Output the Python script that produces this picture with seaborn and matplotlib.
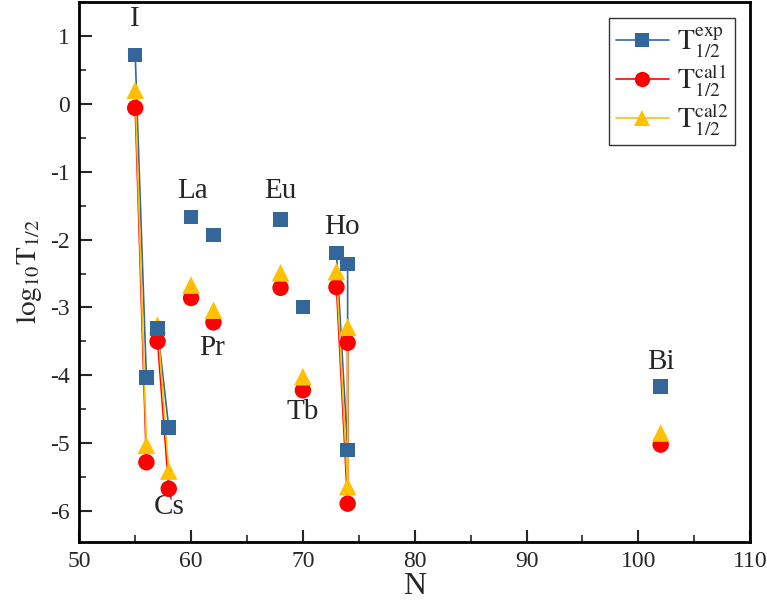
import numpy as np
import pandas as pd
import matplotlib
matplotlib.use("Agg")
import matplotlib.pyplot as plt
import seaborn as sns
from matplotlib.lines import Line2D
from matplotlib.ticker import MultipleLocator

sns.set_theme(style="ticks")
plt.rcParams['font.family'] = ['Liberation Serif', 'DejaVu Serif']
plt.rcParams['mathtext.fontset'] = 'stix'
plt.rcParams['axes.unicode_minus'] = False

# Data (segment id groups points joined by a line)
N = [55, 56, 57, 58, 60, 62, 68, 70, 73, 74, 74, 102]
seg = [0, 0, 1, 1, 2, 3, 4, 5, 6, 6, 6, 7]
T_exp = [0.72, -4.03, -3.31, -4.77, -1.67, -1.93, -1.70, -2.99, -2.20, -5.10, -2.36, -4.16]
T_cal1 = [-0.06, -5.28, -3.50, -5.67, -2.86, -3.22, -2.71, -4.22, -2.70, -5.89, -3.52, -5.02]
T_cal2 = [0.20, -5.03, -3.26, -5.41, -2.67, -3.04, -2.49, -4.02, -2.47, -5.64, -3.29, -4.85]

labels = ["I", "Cs", "La", "Pr", "Eu", "Tb", "Ho", "Bi"]
label_x = [55.0, 58.0, 60.1, 61.9, 68.0, 70.0, 73.5, 102.0]
label_y = [1.25, -5.94, -1.28, -3.60, -1.28, -4.54, -1.82, -3.80]

df = pd.DataFrame({"N": N, "seg": seg, "exp": T_exp, "cal1": T_cal1, "cal2": T_cal2})

c_exp = "#336699"
c_cal1 = "#FF0000"
c_cal2 = "#FFC000"

fig = plt.figure(figsize=(7.67, 6.10), dpi=100)
ax = fig.add_axes([0.1034, 0.112, 0.978 - 0.1034, 0.9967 - 0.112])

for col, c in [("exp", c_exp), ("cal1", c_cal1), ("cal2", c_cal2)]:
    sns.lineplot(data=df, x="N", y=col, units="seg", estimator=None, sort=False,
                 color=c, lw=1.2, ax=ax, legend=False)

sns.scatterplot(data=df, x="N", y="exp", marker="s", s=110, color=c_exp,
                edgecolor="none", ax=ax, legend=False, zorder=5)
sns.scatterplot(data=df, x="N", y="cal1", marker="o", s=140, color=c_cal1,
                edgecolor="none", ax=ax, legend=False, zorder=4)
sns.scatterplot(data=df, x="N", y="cal2", marker="^", s=160, color=c_cal2,
                edgecolor="none", ax=ax, legend=False, zorder=4)

for t, x, y in zip(labels, label_x, label_y):
    ax.text(x, y, t, ha="center", va="center", fontsize=21)

ax.set_xlim(50, 110)
ax.set_ylim(-6.45, 1.5)
ax.xaxis.set_major_locator(MultipleLocator(10))
ax.xaxis.set_minor_locator(MultipleLocator(5))
ax.yaxis.set_major_locator(MultipleLocator(1))
ax.yaxis.set_minor_locator(MultipleLocator(0.5))
ax.tick_params(which="major", direction="in", length=9, width=1.5, labelsize=17, pad=7)
ax.tick_params(which="minor", direction="in", length=5, width=1.2)
ax.tick_params(top=False, right=False, which="both")
for sp in ax.spines.values():
    sp.set_visible(True)
    sp.set_linewidth(2)
    sp.set_color("black")

ax.set_xlabel("N", fontsize=23, labelpad=0)
ax.set_ylabel(r"$\mathrm{log_{10}T_{1/2}}$", fontsize=21, labelpad=4)

handles = [
    Line2D([], [], color=c_exp, lw=1.2, marker="s", markersize=10, markeredgewidth=0),
    Line2D([], [], color=c_cal1, lw=1.2, marker="o", markersize=11, markeredgewidth=0),
    Line2D([], [], color=c_cal2, lw=1.2, marker="^", markersize=12, markeredgewidth=0),
]
leg_labels = [r"$\mathrm{T^{exp}_{1/2}}$", r"$\mathrm{T^{cal1}_{1/2}}$", r"$\mathrm{T^{cal2}_{1/2}}$"]
leg = ax.legend(handles, leg_labels, loc="upper right", bbox_to_anchor=(0.978, 0.970),
                borderaxespad=0, fontsize=20, frameon=True, fancybox=False, edgecolor="black",
                handlelength=1.9, borderpad=0.25, labelspacing=0.1, handletextpad=0.3)
leg.get_frame().set_linewidth(1.0)

fig.savefig("out.png", dpi=100)
